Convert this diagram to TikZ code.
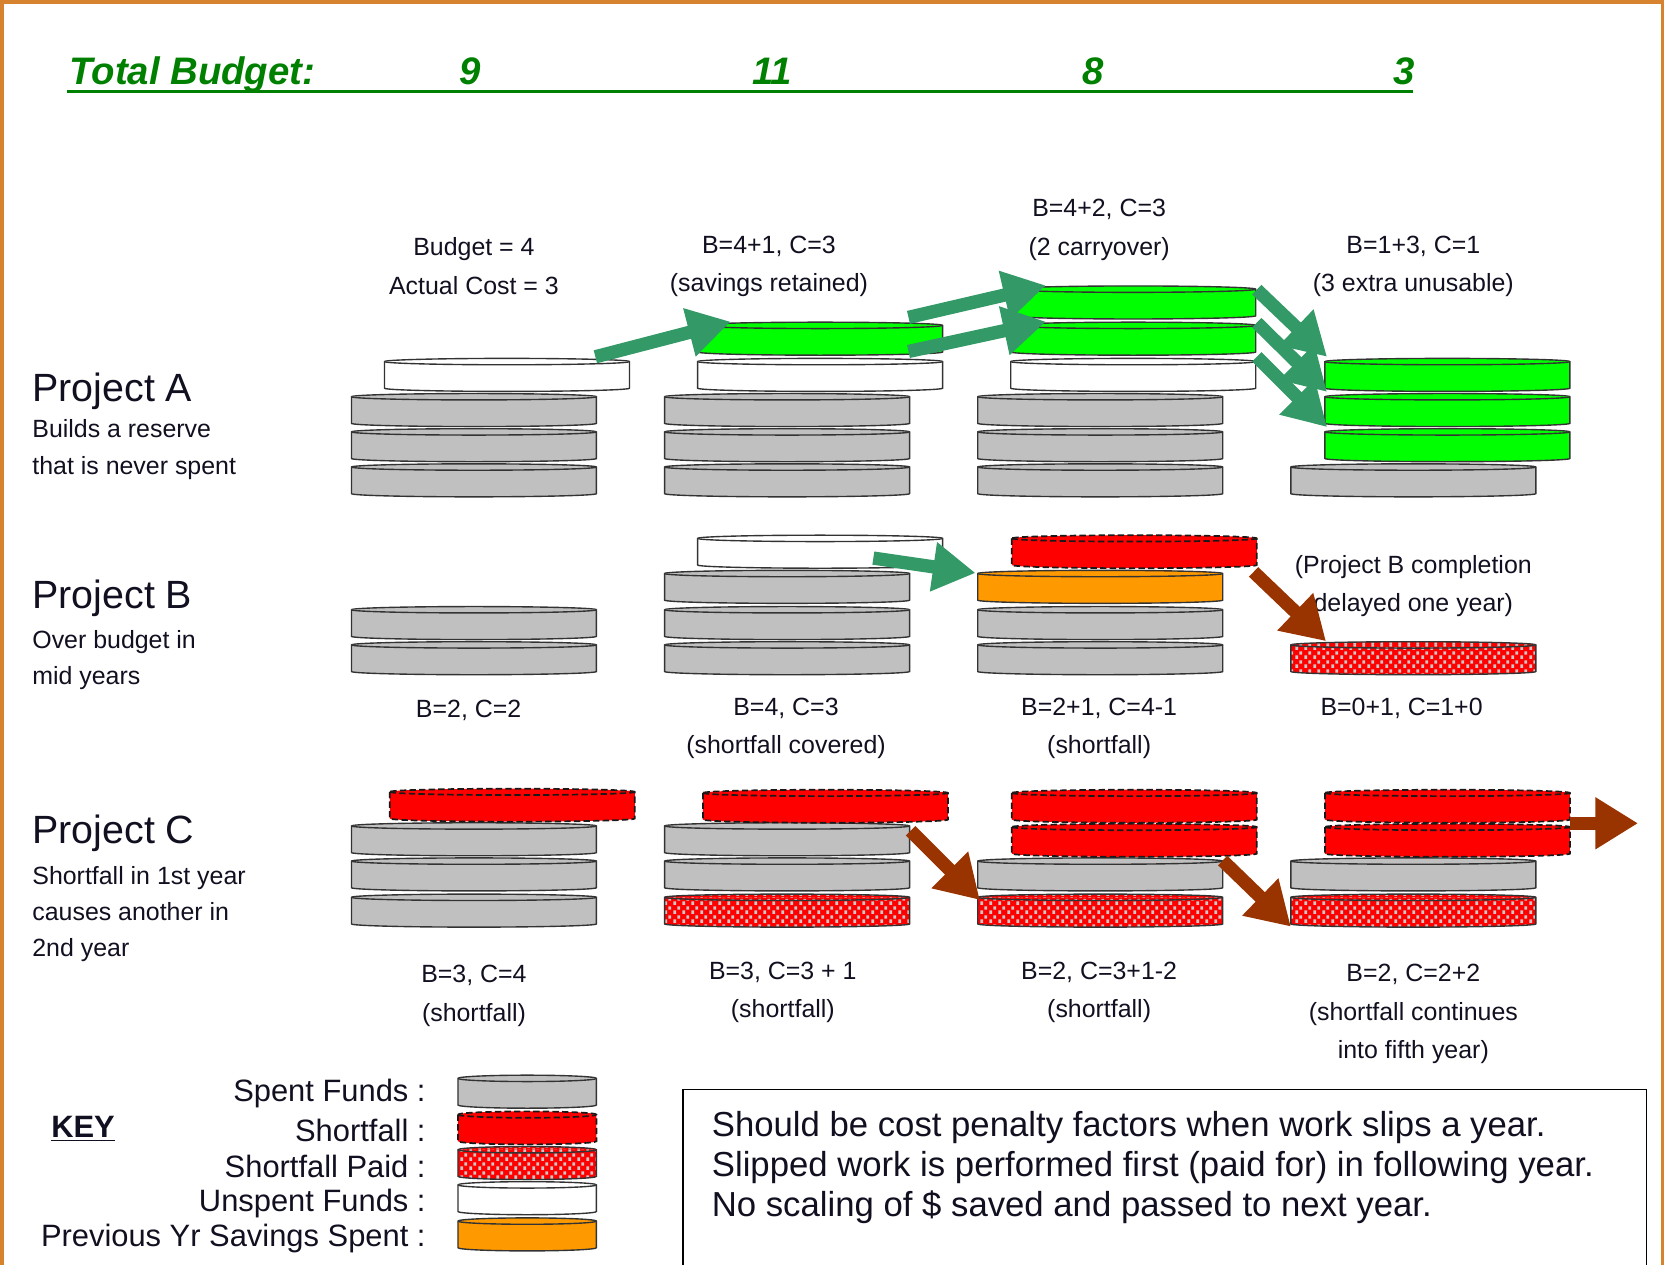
\documentclass[tikz,border=0pt]{standalone}
\usepackage{fontspec}
\setmainfont{Liberation Sans}
\usepackage{tikz}
\usetikzlibrary{arrows.meta,calc,patterns}
\definecolor{ink}{HTML}{101020}
\definecolor{frameorange}{HTML}{D7822F}
\definecolor{titlegreen}{HTML}{008000}
\definecolor{diskgray}{HTML}{C0C0C0}
\definecolor{reservegreen}{HTML}{00FF00}
\definecolor{savedorange}{HTML}{FF9900}
\definecolor{shortred}{HTML}{FF0000}
\definecolor{dotgray}{HTML}{C8C8C8}
\definecolor{arrowgreen}{HTML}{339966}
\definecolor{arrowbrown}{HTML}{993300}

\pgfdeclarepatternformonly{paiddots}{\pgfqpoint{0pt}{0pt}}{\pgfqpoint{4pt}{4pt}}{\pgfqpoint{4pt}{4pt}}{%
  \pgfpathrectangle{\pgfqpoint{0.2pt}{0.1pt}}{\pgfqpoint{1.3pt}{1.7pt}}%
  \pgfpathrectangle{\pgfqpoint{2.2pt}{2.1pt}}{\pgfqpoint{1.3pt}{1.7pt}}%
  \pgfusepath{fill}}

% a coin-like disk: named box plus its outline
% #1 half width (pt), #2 look, #3 name, #4 position
\newcommand\disk[4][57.5]{%
  \node[diskbox, minimum width=#1*2pt] (#3) at #4 {};
  \draw[#2] ([yshift=-1.5pt]#3.north west) -- ([yshift=1.5pt]#3.south west)
    arc[start angle=180, end angle=360, x radius=#1pt, y radius=1.5pt]
    -- ([yshift=-1.5pt]#3.north east)
    arc[start angle=0, end angle=180, x radius=#1pt, y radius=1.5pt] -- cycle;
  \draw[#2] ([yshift=-1.5pt]#3.north west)
    arc[start angle=180, end angle=360, x radius=#1pt, y radius=1.5pt];
}

\begin{document}
\begin{tikzpicture}[
  x=0.5pt, y=-0.5pt,
  diskbox/.style={rectangle, minimum height=15.5pt, inner sep=0pt, outer sep=0pt},
  edge/.style={draw=black!80, line width=0.65pt},
  spent/.style={edge, fill=diskgray},
  unspent/.style={edge, fill=white},
  saved/.style={edge, fill=savedorange},
  reserve/.style={edge, fill=reservegreen},
  shortfall/.style={fill=shortred, draw=black!90, dash pattern=on 3pt off 1.5pt,
                    line width=0.8pt},
  paid/.style={edge, pattern=paiddots, pattern color=dotgray,
               preaction={fill=shortred}},
  garr/.style={draw=arrowgreen, line width=6.25pt,
               -{Triangle[length=20pt,width=22pt]}},
  barr/.style={draw=arrowbrown, line width=6.25pt,
               -{Triangle[length=20pt,width=23pt]}},
  lbl/.style={font=\fontsize{11.7}{18}\selectfont, text=ink, align=center,
              inner sep=0pt},
  pname/.style={font=\fontsize{18.5}{22}\selectfont, text=ink, anchor=west,
                inner sep=0pt},
  pdesc/.style={font=\fontsize{11.7}{17}\selectfont, text=ink, align=left,
                anchor=west, inner sep=0pt},
  title/.style={font=\fontsize{18}{20}\selectfont\bfseries\itshape,
                text=titlegreen, inner sep=0pt},
  keylab/.style={font=\fontsize{14.5}{16}\selectfont, text=ink, anchor=east,
                 inner sep=0pt},
]
\useasboundingbox (0,0) rectangle (1568,1187);

% ---------------- frame and title ----------------
\draw[frameorange, line width=1.6pt] (2,1200) -- (2,2) -- (1561,2) -- (1561,1200);
\node[title, anchor=base west] at (65,79) {Total Budget:};
\node[title, anchor=base] at (441,79) {9};
\node[title, anchor=base] at (725,79) {11};
\node[title, anchor=base] at (1026,79) {8};
\node[title, anchor=base] at (1318,79) {3};
\draw[titlegreen, line width=1.5pt] (63,86) -- (1327,86);

% ---------------- project A: builds a reserve ----------------
\node[pname] at (30,367) {Project A};
\node[pdesc] at (30,422) {Builds a reserve\\that is never spent};

\disk{spent}{A1s3}{(445,451)}
\disk{spent}{A1s2}{(445,418)}
\disk{spent}{A1s1}{(445,385)}
\disk{unspent}{A1u}{(476,352)}

\disk{spent}{A2s3}{(739,451)}
\disk{spent}{A2s2}{(739,418)}
\disk{spent}{A2s1}{(739,385)}
\disk{unspent}{A2u}{(770,352)}
\disk{reserve}{A2g}{(770,318)}

\disk{spent}{A3s3}{(1033,451)}
\disk{spent}{A3s2}{(1033,418)}
\disk{spent}{A3s1}{(1033,385)}
\disk{unspent}{A3u}{(1064,352)}
\disk{reserve}{A3g1}{(1064,318)}
\disk{reserve}{A3g2}{(1064,284)}

\disk{spent}{A4s}{(1327,451)}
\disk{reserve}{A4g1}{(1359,418)}
\disk{reserve}{A4g2}{(1359,385)}
\disk{reserve}{A4g3}{(1359,352)}

\node[lbl] at (445,250) {Budget = 4\\Actual Cost = 3};
\node[lbl] at (722,250) {B=4+1, C=3\\(savings retained)};
\node[lbl] at (1032,216) {B=4+2, C=3\\(2 carryover)};
\node[lbl] at (1327,250) {B=1+3, C=1\\(3 extra unusable)};

% savings carried forward
\draw[garr] ($(A1u)+(83,-17)$) -- ($(A2g)+(-84,-16)$);
\draw[garr] ($(A2g)+(83,-20)$) -- ($(A3g2)+(-82,-16)$);
\draw[garr] ($(A2g)+(83,12)$) -- ($(A3g1)+(-82,-16)$);
\draw[garr] ($(A3g2)+(116,-12)$) -- ($(A4g3)+(-113,-17)$);
\draw[garr] ($(A3g1)+(116,-15)$) -- ($(A4g2)+(-113,-17)$);
\draw[garr] ($(A3u)+(116,-17)$) -- ($(A4g1)+(-113,-17)$);

% ---------------- project B: over budget in mid years ----------------
\node[pname] at (30,562) {Project B};
\node[pdesc] at (30,620) {Over budget in\\mid years};

\disk{spent}{B1s2}{(445,618)}
\disk{spent}{B1s1}{(445,585)}

\disk{spent}{B2s3}{(739,618)}
\disk{spent}{B2s2}{(739,585)}
\disk{spent}{B2s1}{(739,551)}
\disk{unspent}{B2u}{(770,518)}

\disk{spent}{B3s2}{(1033,618)}
\disk{spent}{B3s1}{(1033,585)}
\disk{saved}{B3o}{(1033,551)}
\disk{shortfall}{B3r}{(1065,518)}

\disk{paid}{B4p}{(1327,618)}

\node[lbl] at (440,667) {B=2, C=2};
\node[lbl] at (738,684) {B=4, C=3\\(shortfall covered)};
\node[lbl] at (1032,684) {B=2+1, C=4-1\\(shortfall)};
\node[lbl] at (1316,665) {B=0+1, C=1+0};
\node[lbl] at (1327,550) {(Project B completion\\delayed one year)};

\draw[garr] ($(B2u)+(50,6)$) -- ($(B3o)+(-117,-13)$);
\draw[barr] ($(B3r)+(112,19)$) -- ($(B4p)+(-82,-16)$);

% ---------------- project C: shortfall causes another ----------------
\node[pname] at (30,782) {Project C};
\node[pdesc] at (30,858) {Shortfall in 1st year\\causes another in\\2nd year};

\disk{spent}{C1s3}{(445,855)}
\disk{spent}{C1s2}{(445,821)}
\disk{spent}{C1s1}{(445,788)}
\disk{shortfall}{C1r}{(481,756)}

\disk{paid}{C2p}{(739,855)}
\disk{spent}{C2s2}{(739,821)}
\disk{spent}{C2s1}{(739,788)}
\disk{shortfall}{C2r}{(775,757)}

\disk{paid}{C3p}{(1033,855)}
\disk{spent}{C3s}{(1033,821)}
\disk{shortfall}{C3r1}{(1065,789)}
\disk{shortfall}{C3r2}{(1065,757)}

\disk{paid}{C4p}{(1327,855)}
\disk{spent}{C4s}{(1327,821)}
\disk{shortfall}{C4r1}{(1359,789)}
\disk{shortfall}{C4r2}{(1359,757)}
\coordinate (Cnext) at (1538,773);

\node[lbl] at (445,935) {B=3, C=4\\(shortfall)};
\node[lbl] at (735,932) {B=3, C=3 + 1\\(shortfall)};
\node[lbl] at (1032,932) {B=2, C=3+1-2\\(shortfall)};
\node[lbl] at (1327,952) {B=2, C=2+2\\(shortfall continues\\into fifth year)};

\draw[barr] ($(C2r)+(80,23)$) -- ($(C3p)+(-113,-10)$);
\draw[barr] ($(C3r1)+(83,19)$) -- ($(C4p)+(-115,15)$);
\draw[barr] ($(C4r2)+(115,16)$) -- (Cnext);

% ---------------- key and note ----------------
\node[font=\fontsize{14.5}{16}\selectfont\bfseries, text=ink] at (78,1060)
  {\underline{KEY}};
\disk[32.5]{spent}{K1}{(495,1025)}
\disk[32.5]{shortfall}{K2}{(495,1059)}
\disk[32.5]{paid}{K3}{(495,1092)}
\disk[32.5]{unspent}{K4}{(495,1125)}
\disk[32.5]{saved}{K5}{(495,1159)}
\node[keylab] at (400,1027) {Spent Funds :};
\node[keylab] at (400,1061) {Shortfall :};
\node[keylab] at (400,1095) {Shortfall Paid :};
\node[keylab] at (400,1130) {Unspent Funds :};
\node[keylab] at (400,1163) {Previous Yr Savings Spent :};

\draw[black, line width=0.8pt] (641,1200) -- (641,1023) -- (1546,1023) -- (1546,1200);
\node[font=\fontsize{16.3}{18.75}\selectfont, text=ink, align=left, anchor=west,
      inner sep=0pt] at (668,1096)
  {Should be cost penalty factors when work slips a year.\\
   Slipped work is performed first (paid for) in following year.\\
   No scaling of \$ saved and passed to next year.};

\end{tikzpicture}
\end{document}
